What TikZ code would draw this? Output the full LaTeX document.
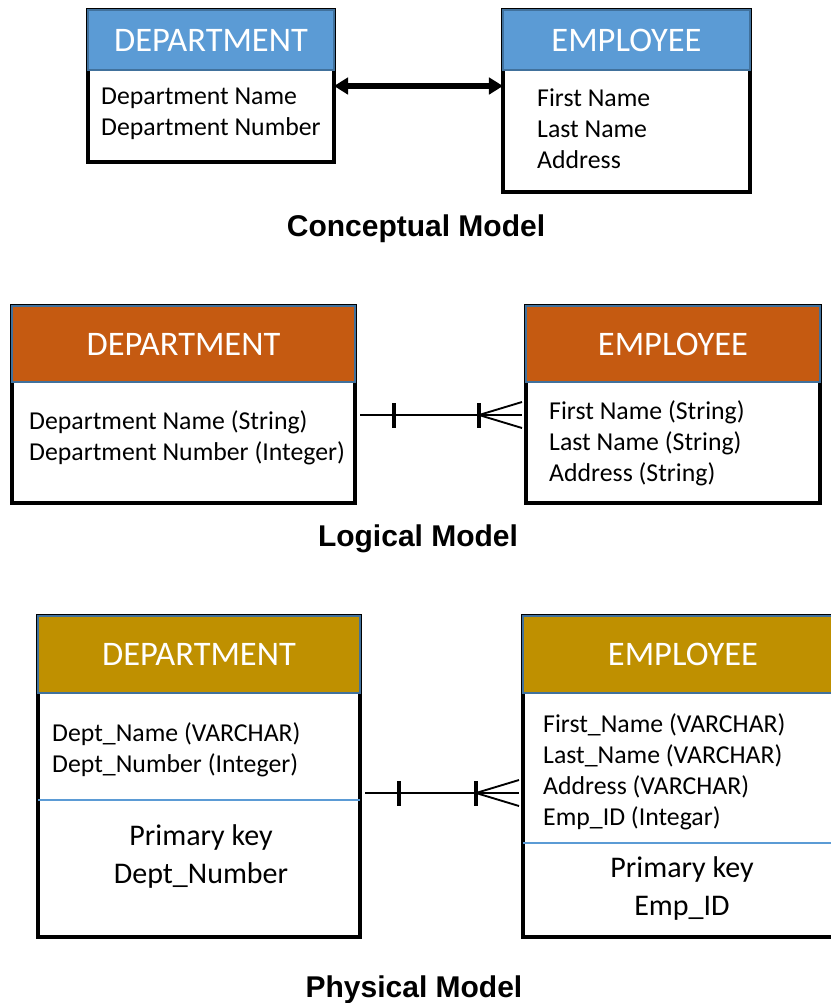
\documentclass[tikz,border=0pt]{standalone}
\usepackage{fontspec}
\setmainfont{Carlito}
\newfontfamily\captionfont{Liberation Sans}
\usetikzlibrary{positioning,calc,arrows.meta}
\definecolor{conceptblue}{HTML}{5B9BD5}
\definecolor{logicorange}{HTML}{C55A11}
\definecolor{physgold}{HTML}{BF9000}
\definecolor{headedge}{HTML}{41719C}

\begin{document}
\begin{tikzpicture}[
    x=0.03cm, y=-0.03cm,
    entity/.style={draw=black,line width=3.5pt,fill=white,anchor=north west,
      outer sep=0pt,inner sep=0pt},
    boxsize/.style 2 args={minimum width={#1*0.03cm},minimum height={#2*0.03cm}},
    head/.style={draw=headedge,line width=1pt,text=white,anchor=north west,
      outer sep=0pt,inner sep=0pt,font=\fontsize{29.4}{33}\selectfont},
    % text blocks are placed at the baseline of their last line
    attr/.style={anchor=base west,align=left,inner sep=0pt,
      font=\fontsize{22}{26.4}\selectfont},
    keytext/.style={anchor=base,align=center,inner sep=0pt,
      font=\fontsize{25.6}{32}\selectfont},
    keyline/.style={conceptblue,line width=2.5pt},
    caption/.style={anchor=base,inner sep=0pt,
      font=\captionfont\bfseries\fontsize{25.6}{30}\selectfont},
    link/.style={line width=4.3pt,
      {Triangle[length=12pt,width=14pt]}-{Triangle[length=12pt,width=14pt]}},
    rel/.style={line width=1.6pt},
    bar/.style={line width=3pt}
  ]
    \useasboundingbox (0,0) rectangle (830,1003);

    % Conceptual model
    \node[entity,boxsize={246}{152}] (cdept) at (88,10) {};
    \node[head,boxsize={246}{60},fill=conceptblue] (cdepth) at (cdept.north west) {DEPARTMENT};
    \node[attr] (cdepta) at (101,135) {Department Name\\Department Number};
    \node[entity,boxsize={247}{182}] (cemp) at (503,10) {};
    \node[head,boxsize={247}{60},fill=conceptblue] (cemph) at (cemp.north west) {EMPLOYEE};
    \node[attr] (cempa) at (537,168) {First Name\\Last Name\\Address};
    \draw[link] (cdept.east) -- (cemp.west |- cdept.east);
    \node[caption] (ccap) at (416,236) {Conceptual Model};

    % Logical model
    \node[entity,boxsize={343}{197}] (ldept) at (12,306) {};
    \node[head,boxsize={343}{76},fill=logicorange] (ldepth) at (ldept.north west) {DEPARTMENT};
    \node[attr] (ldepta) at (29,460) {Department Name (String)\\Department Number (Integer)};
    \node[entity,boxsize={294}{197}] (lemp) at (526,306) {};
    \node[head,boxsize={294}{76},fill=logicorange] (lemph) at (lemp.north west) {EMPLOYEE};
    \node[attr] (lempa) at (549,481) {First Name (String)\\Last Name (String)\\Address (String)};
    \node[caption] (lcap) at (418,546) {Logical Model};

    % Physical model
    \node[entity,boxsize={322}{321}] (pdept) at (38,616) {};
    \node[head,boxsize={322}{77},fill=physgold] (pdepth) at (pdept.north west) {DEPARTMENT};
    \node[attr] (pdepta) at (52,772) {Dept\_Name (VARCHAR)\\Dept\_Number (Integer)};
    \draw[keyline] (pdept.west |- 0,800) -- (pdept.east |- 0,800);
    \node[keytext] (pdeptk) at (201,883) {Primary key\\Dept\_Number};
    \node[entity,boxsize={320}{321}] (pemp) at (523,616) {};
    \node[head,boxsize={320}{77},fill=physgold] (pemph) at (pemp.north west) {EMPLOYEE};
    \node[attr] (pempa) at (543,825) {First\_Name (VARCHAR)\\Last\_Name (VARCHAR)\\Address (VARCHAR)\\Emp\_ID (Integar)};
    \draw[keyline] (pemp.west |- 0,843) -- (pemp.east |- 0,843);
    \node[keytext] (pempk) at (682,915) {Primary key\\Emp\_ID};
    \node[caption] (pcap) at (414,997) {Physical Model};

    % One-to-many relationships
    \foreach \m/\y in {l/415, p/793} {
      \coordinate (\m one) at ($(\m dept.east |- 0,\y)+(5,0)$);
      \coordinate (\m many) at ($(\m emp.west |- 0,\y)+(-4,0)$);
      \draw[rel] (\m one) -- (\m many);
      \draw[bar] ($(\m one)+(34,-12)$) -- ++(0,25);
      \draw[bar] ($(\m many)+(-43,-12)$) -- ++(0,25);
      \draw[rel] (\m many) ++(0,-13) -- ++(-43,13) -- ++(43,13);
    }
  \end{tikzpicture}
\end{document}
